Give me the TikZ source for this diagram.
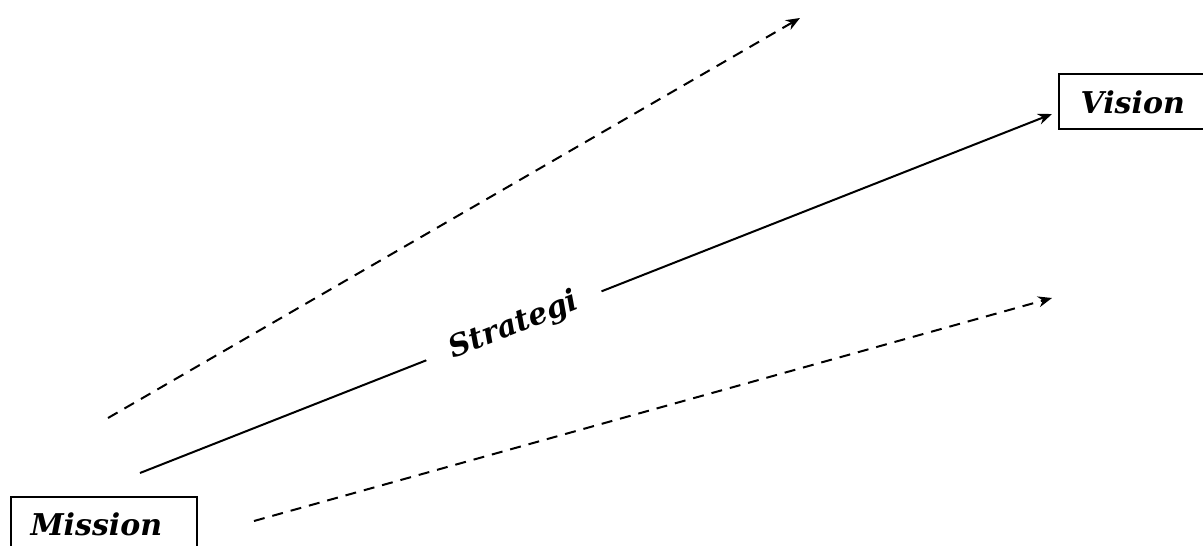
\documentclass[tikz,border=0pt]{standalone}
\usepackage{fontspec}
\setmainfont{DejaVu Serif}
\usetikzlibrary{arrows.meta}
\begin{document}
\begin{tikzpicture}[x=1pt,y=-1pt,
  lbl/.style={font=\fontsize{30}{36}\selectfont\bfseries\itshape},
  boxnode/.style={draw,line width=2pt,anchor=north west,inner sep=0pt},
  conn/.style={line width=2pt,-{Stealth[length=14pt,width=11pt]}},
  dashline/.style={conn,dash pattern=on 11pt off 8pt}]
\useasboundingbox (0,0) rectangle (1203,546);
\node[boxnode,minimum width=186pt,minimum height=70pt] (mission) at (10,496) {};
\node[lbl,anchor=base west] (missiont) at (27,535) {Mission};
\node[boxnode,minimum width=170pt,minimum height=55pt] (vision) at (1058,73) {};
\node[lbl,anchor=base west] (visiont) at (1077,113) {Vision};
\coordinate (s1) at (140,473);
\coordinate (s2) at (1052,114);
\coordinate (u1) at (108,418);
\coordinate (u2) at (800,18);
\coordinate (l1) at (254,521);
\coordinate (l2) at (1052,298);
\draw[conn] (s1) -- node[pos=0.41,sloped,fill=white,lbl,inner xsep=26pt,inner ysep=2pt] (strat) {Strategi} (s2);
\draw[dashline] (u1) -- (u2);
\draw[dashline] (l1) -- (l2);
\end{tikzpicture}
\end{document}
